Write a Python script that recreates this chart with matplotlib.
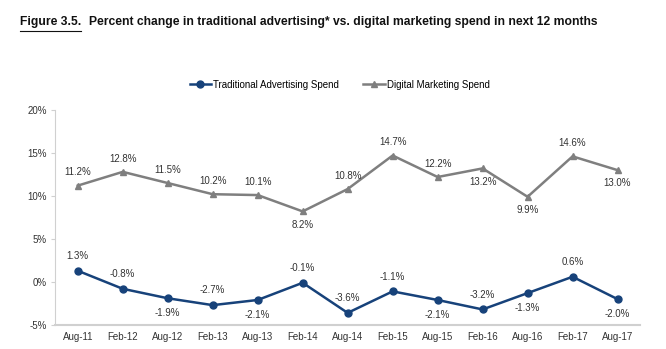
import matplotlib
matplotlib.use("Agg")
import matplotlib.pyplot as plt
from matplotlib import font_manager as fm
from matplotlib.ticker import FuncFormatter

plt.rcParams["font.family"] = ["Liberation Sans", "DejaVu Sans"]
names = {f.name for f in fm.fontManager.ttflist}
print([n for n in names if "Narrow" in n or "Condensed" in n])
TITLE_FONT = ["Liberation Sans Narrow", "Liberation Sans"] if "Liberation Sans Narrow" in names else ["Liberation Sans"]

periods = ["Aug-11", "Feb-12", "Aug-12", "Feb-13", "Aug-13", "Feb-14", "Aug-14",
           "Feb-15", "Aug-15", "Feb-16", "Aug-16", "Feb-17", "Aug-17"]
traditional = [1.3, -0.8, -1.9, -2.7, -2.1, -0.1, -3.6, -1.1, -2.1, -3.2, -1.3, 0.6, -2.0]
digital = [11.2, 12.8, 11.5, 10.2, 10.1, 8.2, 10.8, 14.7, 12.2, 13.2, 9.9, 14.6, 13.0]
# label above (1) or below (-1) the point
trad_side = [1, 1, -1, 1, -1, 1, 1, 1, -1, 1, -1, 1, -1]
dig_side = [1, 1, 1, 1, 1, -1, 1, 1, 1, -1, -1, 1, -1]

NAVY, GRAY, AX = "#17427A", "#7F7F7F", "#D0D0D0"

fig = plt.figure(figsize=(6.66, 3.49), dpi=100)
ax = fig.add_axes([0.083, 0.069, 0.878, 0.616])
x = list(range(len(periods)))
ax.plot(x, traditional, color=NAVY, lw=1.8, marker="o", ms=5, label="Traditional Advertising Spend")
ax.plot(x, digital, color=GRAY, lw=1.8, marker="^", ms=4.5, label="Digital Marketing Spend")

for xi, v, s in zip(x, traditional, trad_side):
    ax.annotate(f"{v:.1f}%", (xi, v), xytext=(0, 7 * s), textcoords="offset points",
                ha="center", va="bottom" if s > 0 else "top", fontsize=7, color="#333333")
for xi, v, s in zip(x, digital, dig_side):
    ax.annotate(f"{v:.1f}%", (xi, v), xytext=(0, 6 * s), textcoords="offset points",
                ha="center", va="bottom" if s > 0 else "top", fontsize=7, color="#333333")

ax.set_xlim(-0.5, len(periods) - 0.5)
ax.set_ylim(-5, 20)
ax.set_yticks([-5, 0, 5, 10, 15, 20])
ax.yaxis.set_major_formatter(FuncFormatter(lambda v, p: f"{v:.0f}%"))
ax.set_xticks(x)
ax.set_xticklabels(periods)
ax.tick_params(axis="both", labelsize=7, colors="#333333")
ax.tick_params(axis="x", length=0, pad=5)
ax.tick_params(axis="y", length=3, color=AX, pad=3)
for sp in ["top", "right"]:
    ax.spines[sp].set_visible(False)
ax.spines["left"].set_color(AX)
ax.spines["bottom"].set_color(AX)
ax.spines["bottom"].set_linewidth(1.5)

fig.legend(loc="center", bbox_to_anchor=(0.51, 0.757), ncol=2, frameon=False, fontsize=7,
           handlelength=2.2, handletextpad=0.2, columnspacing=2.5)

# title: underlined figure number followed by the caption, fitted to the reference width
r = fig.canvas.get_renderer()
W, H = fig.bbox.width, fig.bbox.height
x0, x1, yc = 20, 597, 0.937
fs = 9.5
for _ in range(3):
    t1 = fig.text(x0 / W, yc, "Figure 3.5.", fontsize=fs, fontweight="bold", family=TITLE_FONT,
                  color="#111111", va="center")
    w1 = t1.get_window_extent(r).width
    t2 = fig.text((x0 + w1 + 8) / W, yc,
                  "Percent change in traditional advertising* vs. digital marketing spend in next 12 months",
                  fontsize=fs, fontweight="bold", family=TITLE_FONT, color="#111111", va="center")
    e2 = t2.get_window_extent(r)
    if abs(e2.x1 - x1) < 3:
        break
    fs *= (x1 - x0) / (e2.x1 - x0)
    t1.remove(); t2.remove()
fig.add_artist(plt.Line2D([x0 / W, (x0 + w1) / W], [yc - 0.026, yc - 0.026], color="#111111", lw=0.8))

fig.savefig("out.png", dpi=100, facecolor="white")
